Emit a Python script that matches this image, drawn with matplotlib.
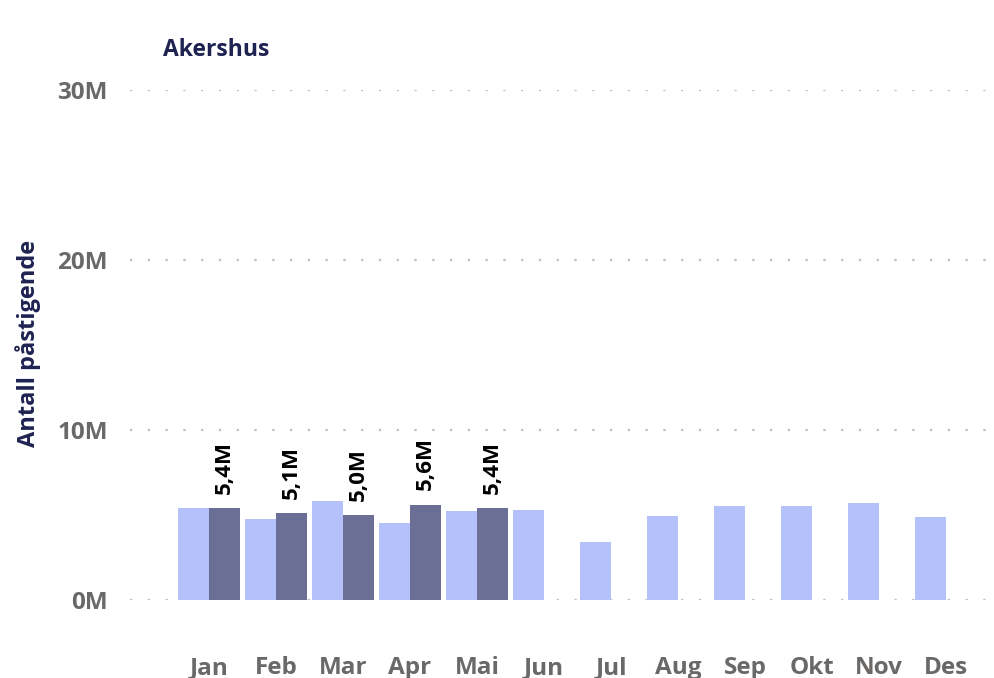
import numpy as np
import matplotlib.pyplot as plt

plt.rcParams['font.family'] = ['Open Sans', 'DejaVu Sans']

# data (millioner påstigende)
maneder = ["Jan", "Feb", "Mar", "Apr", "Mai", "Jun", "Jul", "Aug", "Sep", "Okt", "Nov", "Des"]
fjor = [5.41, 4.76, 5.82, 4.53, 5.24, 5.29, 3.41, 4.94, 5.53, 5.53, 5.71, 4.88]
iaar = [5.4, 5.1, 5.0, 5.6, 5.4]
tittel = "Akershus"
ylabel = "Antall påstigende"
yticks = [0, 10, 20, 30]

lys = "#b5c1fb"
mork = "#6b6f95"
gra = "#6b6967"
navy = "#1f2352"

fig = plt.figure(figsize=(9.95, 6.78), dpi=100)
ax = fig.add_axes([130/995, 78/678, 865/995, 510/678])

x = np.arange(len(maneder))
w = 0.46
ax.bar(x - w/2, fjor, width=w, color=lys, zorder=2)
xi = np.arange(len(iaar))
ax.bar(xi + w/2, iaar, width=w, color=mork, zorder=2)

# verdier over mørke søyler
for xx, v in zip(xi, iaar):
    ax.text(xx + w/2, v + 0.85, f"{v:.1f}M".replace(".", ","), rotation=90,
            ha="center", va="bottom", fontsize=16, fontweight="bold", color="black")

ax.set_xlim(-1.18, 11.73)
ax.set_ylim(0, 30)
ax.set_xticks(x)
ax.set_xticklabels(maneder)
ax.set_yticks(yticks)
ax.set_yticklabels([f"{t}M" for t in yticks])
ax.tick_params(axis="x", length=0, pad=40, labelsize=17.5, labelcolor=gra)
ax.tick_params(axis="y", length=0, pad=16, labelsize=17.5, labelcolor=gra)
for lab in ax.get_xticklabels() + ax.get_yticklabels():
    lab.set_fontweight("bold")

ax.grid(axis="y", color="#bdbdbd", linestyle=(0, (1, 7)), linewidth=1.6, zorder=0)
ax.grid(axis="x", visible=False)
for s in ax.spines.values():
    s.set_visible(False)

fig.text(163/995, 1 - 50/678, tittel, fontsize=16.5, fontweight="bold", color=navy,
         ha="left", va="center")
fig.text(28/995, 1 - 343/678, ylabel, fontsize=17, fontweight="bold", color=navy,
         rotation=90, ha="center", va="center")

fig.savefig("out.png", dpi=100)
